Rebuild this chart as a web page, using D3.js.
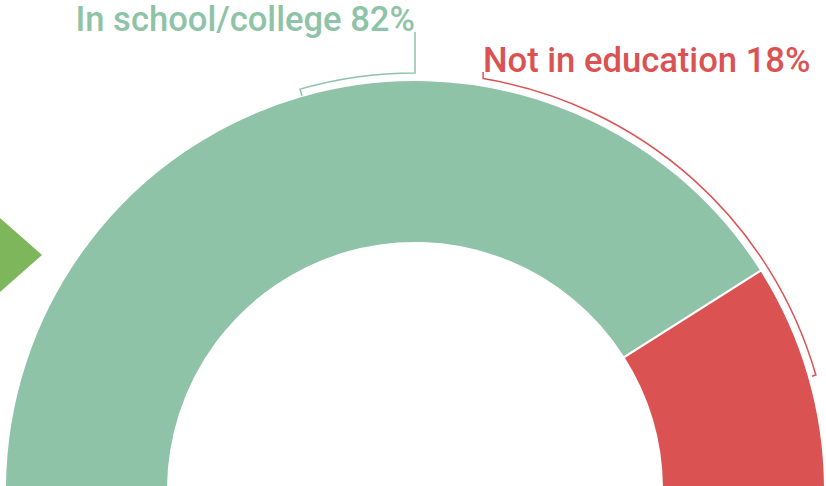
<!DOCTYPE html>
<html>
<head>
<meta charset="utf-8">
<script src="https://cdn.jsdelivr.net/npm/d3@7"></script>
<style>
  html, body { margin: 0; padding: 0; background: #fff; overflow: hidden; }
  svg { display: block; }
</style>
</head>
<body>
<svg id="chart"></svg>
<script>
const categories = ['In school/college', 'Not in education'];
const values = [82, 18];
const colors = ['#8ec3a7', '#db5253'];
// bracket spans in degrees (0 = top, clockwise)
const bracketStart = [-16, 9.4];
const bracketEnd = [0, 74];

const width = 826, height = 486;
const cx = 415, cy = 490;
const outerR = 410, innerR = 247, bracketR = 417;

const svg = d3.select('#chart')
  .attr('width', width)
  .attr('height', height);

// arrow on the left
svg.append('polygon')
  .attr('points', '0,218 42,255 0,292')
  .attr('fill', '#7db65b');

const g = svg.append('g')
  .attr('transform', `translate(${cx},${cy})`);

const pie = d3.pie()
  .sort(null)
  .startAngle(-Math.PI / 2)
  .endAngle(Math.PI / 2);

const arc = d3.arc()
  .innerRadius(innerR)
  .outerRadius(outerR);

const arcs = pie(values);

g.selectAll('path.slice')
  .data(arcs)
  .enter()
  .append('path')
  .attr('class', 'slice')
  .attr('d', arc)
  .attr('fill', (d, i) => colors[i])
  .attr('stroke', '#fff')
  .attr('stroke-width', 2);

const rad = deg => deg * Math.PI / 180;

// green bracket: inward tick, arc, then vertical up to the label
{
  const a0 = rad(bracketStart[0]), a1 = rad(bracketEnd[0]);
  const p = d3.path();
  p.moveTo((bracketR - 7) * Math.sin(a0), -(bracketR - 7) * Math.cos(a0));
  p.lineTo(bracketR * Math.sin(a0), -bracketR * Math.cos(a0));
  p.arc(0, 0, bracketR, a0 - Math.PI / 2, a1 - Math.PI / 2, false);
  p.lineTo(0, 32 - cy);
  g.append('path')
    .attr('d', p.toString())
    .attr('fill', 'none')
    .attr('stroke', colors[0])
    .attr('stroke-width', 1.5);
}

// red bracket: tick up to label, arc, inward tick
{
  const a0 = rad(bracketStart[1]), a1 = rad(bracketEnd[1]);
  const x0 = bracketR * Math.sin(a0), y0 = -bracketR * Math.cos(a0);
  const p = d3.path();
  p.moveTo(x0, 72 - cy);
  p.lineTo(x0, y0);
  p.arc(0, 0, bracketR, a0 - Math.PI / 2, a1 - Math.PI / 2, false);
  p.lineTo((bracketR - 4) * Math.sin(a1), -(bracketR - 4) * Math.cos(a1));
  g.append('path')
    .attr('d', p.toString())
    .attr('fill', 'none')
    .attr('stroke', colors[1])
    .attr('stroke-width', 1.5);
}

// labels
svg.append('text')
  .attr('x', 415)
  .attr('y', 31)
  .attr('text-anchor', 'end')
  .attr('font-family', 'Roboto')
  .attr('font-weight', 500)
  .attr('font-size', 34.6)
  .attr('fill', colors[0])
  .text(`${categories[0]} ${values[0]}%`);

svg.append('text')
  .attr('x', 483)
  .attr('y', 72)
  .attr('text-anchor', 'start')
  .attr('font-family', 'Roboto')
  .attr('font-weight', 500)
  .attr('font-size', 34.6)
  .attr('fill', colors[1])
  .text(`${categories[1]} ${values[1]}%`);
</script>
</body>
</html>
